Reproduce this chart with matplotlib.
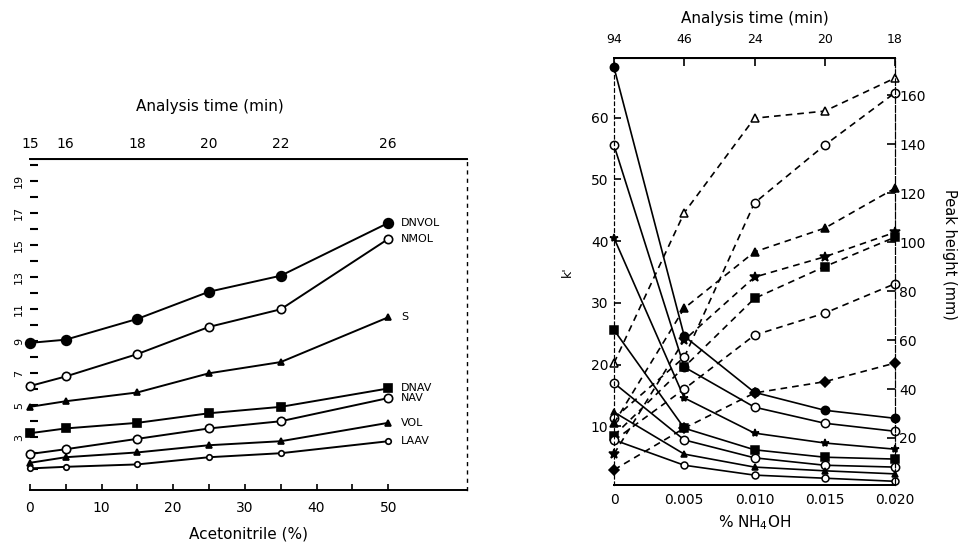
import matplotlib
matplotlib.use('Agg')
import matplotlib.pyplot as plt

plt.rcParams['font.family'] = ['DejaVu Sans']

# left panel: k' vs acetonitrile
acn = [0, 5, 15, 25, 35, 50]
acn_time = ['15', '16', '18', '20', '22', '26']
dnvol = [8.9, 9.1, 10.4, 12.1, 13.1, 16.4]
nmol = [6.2, 6.8, 8.2, 9.9, 11.0, 15.4]
s_vals = [4.9, 5.25, 5.8, 7.0, 7.7, 10.5]
dnav = [3.25, 3.55, 3.9, 4.5, 4.9, 6.05]
nav = [1.95, 2.25, 2.9, 3.55, 4.0, 5.45]
vol = [1.4, 1.75, 2.05, 2.5, 2.75, 3.9]
laav = [1.05, 1.15, 1.3, 1.75, 2.0, 2.75]
left_names = ['DNVOL', 'NMOL', 'S', 'DNAV', 'NAV', 'VOL', 'LAAV']

# right panel: k' (solid) and peak height (dashed) vs NH4OH
nh4oh = [0, 0.005, 0.010, 0.015, 0.020]
nh4oh_labels = ['0', '0.005', '0.010', '0.015', '0.020']
nh4oh_time = ['94', '46', '24', '20', '18']
k1 = [68.1, 24.6, 15.5, 12.6, 11.3]
k2 = [55.5, 19.6, 13.1, 10.5, 9.2]
k3 = [40.5, 14.6, 8.9, 7.3, 6.3]
k4 = [25.6, 9.7, 6.2, 5.0, 4.7]
k5 = [17.0, 7.8, 4.9, 3.7, 3.4]
k6 = [12.3, 5.5, 3.4, 2.8, 2.3]
k7 = [7.8, 3.7, 2.1, 1.6, 1.1]
h_a = [50.6, 112, 150.6, 153.5, 167]
h_b = [28, 53, 116, 139.6, 161]
h_c = [26, 73, 96, 105.7, 122]
h_d = [13.5, 60, 85.7, 94, 104]
h_e = [21, 49, 77, 90, 102]
h_f = [19, 40, 62, 71, 83]
h_g = [7, 24, 38.4, 43, 50.6]

fig = plt.figure(figsize=(9.63, 5.43), dpi=100)

# ---------------- left panel ----------------
ax = fig.add_axes([0.031, 0.0976, 0.454, 0.6096])
styles = [('o', 'k', 7), ('o', 'w', 6), ('^', 'k', 4), ('s', 'k', 6),
          ('o', 'w', 6), ('^', 'k', 5), ('o', 'w', 4)]
series = [dnvol, nmol, s_vals, dnav, nav, vol, laav]
for ys, (m, fc, ms), name in zip(series, styles, left_names):
    ax.plot(acn, ys, color='k', lw=1.4, marker=m, mfc=fc, mec='k', mew=1.2,
            ms=ms, clip_on=False)
    ax.text(51.8, ys[-1], name, fontsize=8, va='center', ha='left')

ax.set_xlim(0, 61)
ax.set_ylim(-0.3, 20.4)
ax.set_xticks([0, 10, 20, 30, 40, 50])
ax.set_xticks([5, 15, 25, 35, 45], minor=True)
ax.set_yticks(range(1, 21))
ax.set_yticklabels([str(i) if (i % 2 == 1 and i >= 3) else '' for i in range(1, 21)],
                   rotation=90, va='center')
ax.tick_params(axis='y', direction='in', length=6, width=1.5, pad=4, labelsize=8)
ax.tick_params(axis='x', direction='in', length=4, width=1.2, pad=8, labelsize=10)
ax.tick_params(axis='x', which='minor', direction='in', length=4, width=1.2)
ax.spines['left'].set_visible(False)
ax.spines['right'].set_linestyle((0, (2, 4)))
ax.spines['right'].set_linewidth(1.0)
ax.spines['top'].set_linewidth(1.4)
ax.spines['bottom'].set_linewidth(1.4)
ax.set_xlabel('Acetonitrile (%)', fontsize=11, labelpad=8)

top = ax.secondary_xaxis('top')
top.set_xticks(acn)
top.set_xticklabels(acn_time)
top.tick_params(direction='in', length=0, pad=6, labelsize=10)
fig.text(210 / 963, 1 - 107 / 543, 'Analysis time (min)', fontsize=11,
         ha='center', va='center')

# ---------------- right panel ----------------
ax2 = fig.add_axes([0.6376, 0.1068, 0.2918, 0.786])
axr = ax2.twinx()

solid_styles = [('o', 'k', 6), ('o', 'w', 6), ('*', 'k', 6), ('s', 'k', 6),
                ('o', 'w', 6), ('^', 'k', 5), ('o', 'w', 5)]
for ys, (m, fc, ms) in zip([k1, k2, k3, k4, k5, k6, k7], solid_styles):
    ax2.plot(nh4oh, ys, color='k', lw=1.2, marker=m, mfc=fc, mec='k', mew=1.1,
             ms=ms, clip_on=False)

dash_styles = [('^', 'w', 6), ('o', 'w', 6), ('^', 'k', 6), ('*', 'k', 7),
               ('s', 'k', 6), ('o', 'w', 6), ('D', 'k', 5)]
for ys, (m, fc, ms) in zip([h_a, h_b, h_c, h_d, h_e, h_f, h_g], dash_styles):
    axr.plot(nh4oh, ys, color='k', lw=1.2, ls=(0, (4, 3)), marker=m, mfc=fc,
             mec='k', mew=1.1, ms=ms, clip_on=False)

ax2.set_xlim(0, 0.020)
ax2.set_ylim(0.5, 69.6)
axr.set_ylim(0.8, 175.1)
ax2.set_xticks(nh4oh)
ax2.set_xticklabels(nh4oh_labels)
ax2.set_yticks([10, 20, 30, 40, 50, 60])
axr.set_yticks([20, 40, 60, 80, 100, 120, 140, 160])
ax2.tick_params(axis='y', direction='in', length=5, width=1.2, pad=4, labelsize=10)
ax2.tick_params(axis='x', direction='in', length=0, pad=6, labelsize=10)
axr.tick_params(axis='y', direction='in', length=6, width=1.2, pad=3, labelsize=10)
for a in (ax2, axr):
    a.spines['left'].set_linestyle((0, (3, 3)))
    a.spines['right'].set_linestyle((0, (6, 2)))
    a.spines['top'].set_linewidth(1.4)
    a.spines['bottom'].set_linewidth(1.4)
ax2.set_xlabel('% NH$_4$OH', fontsize=11, labelpad=4)
ax2.set_ylabel("k'", fontsize=9, labelpad=12)
axr.set_ylabel('Peak height (mm)', fontsize=10.5, rotation=-90, labelpad=18)
axr.yaxis.set_label_coords(1.22, 0.54)

top2 = ax2.secondary_xaxis('top')
top2.set_xticks(nh4oh)
top2.set_xticklabels(nh4oh_time)
top2.tick_params(direction='in', length=6, width=1.2, pad=9, labelsize=9)
top2.set_xlabel('Analysis time (min)', fontsize=11, labelpad=7)

fig.savefig('out.png', dpi=100)
